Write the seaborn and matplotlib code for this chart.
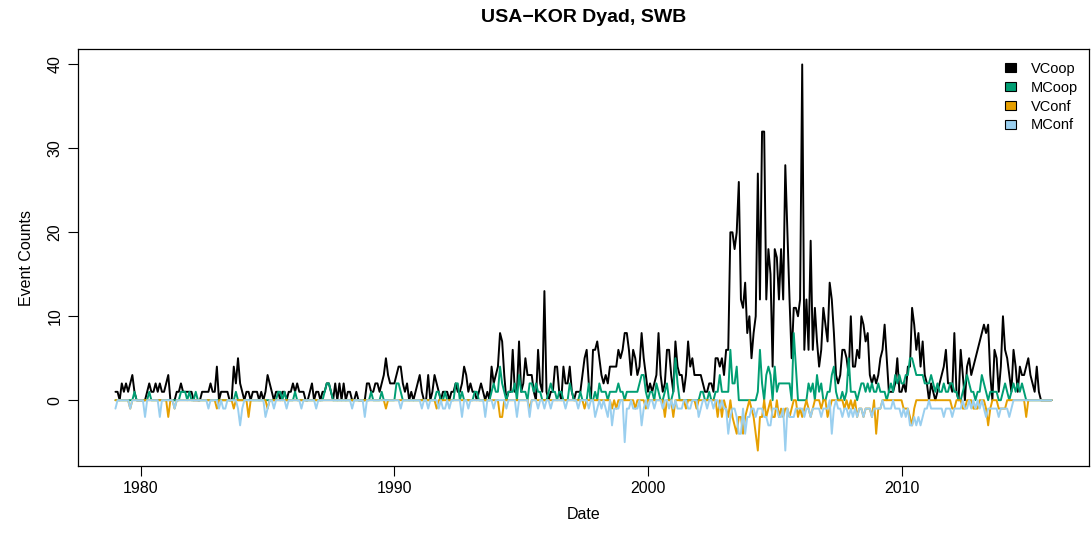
import numpy as np
import pandas as pd
import matplotlib
matplotlib.use("Agg")
import matplotlib.pyplot as plt
from matplotlib.patches import Patch
import seaborn as sns

# Monthly event counts, Jan 1979 - Dec 2015
start_year = 1979
vcoop = [
    1,1,0,2,1,2,1,2,3,1,0,0,  # 1979
    0,0,0,1,2,1,1,2,1,2,1,1,  # 1980
    2,3,0,0,0,1,1,2,1,1,1,1,  # 1981
    1,0,0,0,0,1,1,1,1,2,1,1,  # 1982
    4,0,1,1,1,1,0,0,4,2,5,2,  # 1983
    1,0,1,1,0,1,1,1,0,1,0,1,  # 1984
    3,2,1,0,1,1,0,1,1,0,1,1,  # 1985
    2,1,2,1,1,1,0,0,1,2,0,1,  # 1986
    1,0,1,1,2,2,1,0,2,0,2,0,  # 1987
    2,0,1,1,0,0,1,0,0,0,0,2,  # 1988
    2,1,1,2,2,1,2,3,5,3,2,2,  # 1989
    2,3,4,4,2,1,2,0,1,0,1,2,  # 1990
    3,1,0,0,3,0,1,3,2,1,0,1,  # 1991
    1,1,0,1,1,2,1,1,2,4,3,1,  # 1992
    2,1,1,0,1,2,1,0,1,0,4,2,  # 1993
    3,4,8,7,3,0,1,1,6,1,1,7,  # 1994
    1,2,5,3,3,3,1,0,6,2,1,13, # 1995
    1,0,1,1,4,4,1,0,4,2,2,4,  # 1996
    1,0,1,1,1,3,5,6,2,0,6,6,  # 1997
    7,5,3,2,3,2,4,4,4,4,6,5,  # 1998
    6,8,8,6,3,6,5,3,4,8,5,3,  # 1999
    1,2,1,2,3,8,3,1,2,6,6,3,  # 2000
    1,7,4,3,3,1,3,7,4,5,3,3,  # 2001
    3,3,2,1,1,2,2,1,5,5,4,5,  # 2002
    3,6,6,20,20,18,20,26,12,11,14,8,   # 2003
    10,5,8,10,27,12,32,32,12,18,15,4,  # 2004
    18,17,12,18,12,28,20,12,5,11,11,10, # 2005
    12,40,6,12,6,19,6,11,7,4,6,11,     # 2006
    9,7,14,12,8,3,2,3,6,6,5,3,  # 2007
    10,4,4,6,5,10,9,7,8,3,2,3,  # 2008
    2,3,5,6,9,5,1,1,1,2,5,1,    # 2009
    1,2,1,4,4,11,9,6,8,4,7,3,   # 2010
    2,0,2,1,0,1,2,3,4,6,2,2,    # 2011
    1,8,1,0,6,3,0,4,5,3,4,5,    # 2012
    6,7,8,9,8,9,3,0,6,5,1,4,    # 2013
    10,6,5,3,1,6,4,1,4,3,3,4,   # 2014
    5,3,2,1,4,1,0,0,0,0,0,0,    # 2015
]
mcoop = [
    0,0,0,0,0,0,0,0,0,1,0,0,
    0,0,0,0,1,0,0,0,0,0,0,0,
    0,0,0,0,0,0,0,1,1,1,0,1,
    0,0,1,0,0,0,0,0,0,0,0,0,
    0,0,0,0,0,0,0,0,0,1,0,0,
    0,0,0,0,0,0,0,0,0,0,0,0,
    0,0,0,0,0,1,1,0,1,0,0,0,
    0,1,0,0,0,0,0,0,0,0,0,0,
    0,0,0,1,2,2,1,0,0,0,0,0,
    0,0,0,0,0,0,0,0,0,0,0,0,
    0,1,0,0,0,0,1,0,0,0,0,0,
    0,2,2,1,0,0,0,0,0,0,0,0,
    0,0,0,0,0,0,0,0,1,1,0,0,
    1,0,0,0,0,2,2,0,1,0,0,0,
    0,0,1,1,0,0,0,0,0,0,1,2,
    1,1,4,2,1,0,1,1,1,2,0,3,
    1,1,1,0,2,2,1,2,1,1,0,0,
    0,1,2,1,1,0,1,1,0,0,0,2,
    1,0,0,0,1,0,0,0,2,0,0,1,
    0,2,1,1,1,0,1,1,1,1,2,1,
    1,0,1,1,1,1,1,1,2,3,3,1,
    0,1,1,0,2,1,0,0,1,2,0,0,
    1,5,2,0,0,0,0,0,0,0,0,0,
    0,1,1,0,0,1,0,0,1,1,3,1,
    1,1,1,6,2,2,4,0,0,0,0,0,
    0,0,0,0,1,6,2,0,3,4,3,0,
    4,1,2,2,2,2,2,2,0,8,4,0,
    0,0,0,0,2,1,2,0,3,1,2,0,
    0,1,1,3,4,1,0,0,1,0,1,5,
    1,1,1,0,1,2,2,1,2,1,2,1,
    1,2,1,1,1,0,1,2,1,3,2,3,
    2,2,3,3,5,5,4,3,3,3,3,2,
    2,2,3,2,1,2,1,1,2,1,1,2,
    2,1,1,0,0,1,2,3,2,1,1,0,
    1,1,3,2,1,0,1,1,1,1,0,0,
    1,2,1,0,1,2,1,2,1,2,1,0,
    0,0,0,0,0,0,0,0,0,0,0,0,
]
vconf = [
    0,0,0,0,0,0,0,1,0,0,0,0,
    0,0,0,0,0,0,0,0,0,0,0,0,
    0,2,0,0,1,0,0,0,0,0,0,0,
    0,0,0,0,0,0,0,0,0,0,0,0,
    1,0,0,0,0,0,0,0,1,0,0,0,
    0,0,0,2,0,0,0,0,0,0,0,0,
    1,0,0,0,0,0,0,0,0,0,0,0,
    0,0,0,0,0,0,0,0,0,0,0,0,
    0,0,0,0,0,0,0,0,0,0,0,0,
    0,0,0,0,0,0,0,0,0,0,0,0,
    0,0,0,0,0,0,0,0,1,0,0,0,
    0,0,0,0,0,0,0,0,0,0,0,0,
    0,0,0,0,0,0,0,0,1,0,0,0,
    0,0,0,0,0,0,0,0,0,0,0,0,
    0,0,0,0,0,0,0,0,0,0,0,0,
    0,0,2,2,0,0,0,0,0,0,0,0,
    0,0,0,0,1,0,0,0,0,0,0,0,
    0,0,0,0,0,0,0,0,0,0,0,0,
    0,0,0,0,0,0,1,0,0,0,0,0,
    0,0,0,0,0,0,0,1,0,1,0,0,
    0,0,0,0,0,0,1,0,0,0,0,1,
    0,0,0,0,0,0,0,0,2,0,0,0,
    2,0,0,0,0,0,1,0,0,0,0,1,
    0,0,0,0,0,0,0,0,0,2,0,2,
    0,1,2,0,2,3,4,2,2,4,2,1,
    0,1,2,4,6,2,2,0,2,1,0,2,
    2,0,2,1,2,1,1,2,1,0,0,2,
    1,2,1,0,1,2,1,0,0,0,1,0,
    0,2,1,0,0,0,0,0,0,1,0,1,
    0,1,0,2,1,1,2,1,1,1,2,0,
    4,1,1,0,0,0,0,0,0,0,0,0,
    0,1,1,1,2,3,1,0,0,0,0,0,
    0,0,0,0,0,0,0,0,0,0,0,0,
    1,1,0,0,0,1,1,0,0,0,1,1,
    1,0,0,0,1,3,1,0,0,0,1,1,
    1,1,0,0,0,0,0,0,0,0,0,2,
    0,0,0,0,0,0,0,0,0,0,0,0,
]
mconf = [
    1,0,0,0,0,0,0,1,0,0,0,0,
    0,0,2,0,0,0,0,0,0,2,0,0,
    0,0,0,0,1,0,0,0,0,0,0,0,
    0,0,0,0,0,0,0,0,1,0,0,0,
    0,1,0,1,1,0,0,0,0,0,1,3,
    1,0,0,0,0,0,0,0,0,0,0,2,
    1,0,0,1,0,0,0,0,0,1,0,0,
    0,0,0,0,1,0,0,0,0,0,0,1,
    0,0,0,0,0,0,0,0,0,0,0,0,
    0,0,0,0,1,0,0,0,0,0,2,0,
    0,0,0,0,0,0,0,0,0,0,0,0,
    0,0,0,1,0,0,0,0,0,0,0,0,
    0,1,0,0,1,0,0,0,0,1,0,1,
    1,0,1,0,0,0,0,0,2,0,0,1,
    0,0,0,0,0,0,0,2,0,0,0,1,
    0,0,0,0,0,1,0,0,0,0,2,0,
    0,0,0,0,2,0,0,0,1,0,0,1,
    0,0,1,0,0,0,0,0,0,1,0,0,
    0,0,0,1,0,0,0,0,1,0,0,2,
    1,0,1,0,1,2,0,3,1,1,1,0,
    0,5,1,1,0,1,1,1,0,3,1,0,
    1,0,0,1,0,0,0,1,0,0,1,0,
    1,0,1,1,1,0,0,1,1,0,0,0,
    2,1,0,0,1,0,0,1,0,0,1,0,
    1,1,4,2,1,1,2,4,4,1,4,2,
    2,1,1,2,1,1,1,2,2,3,3,1,
    1,1,2,2,1,6,1,2,2,2,1,1,
    1,1,2,1,1,2,1,1,1,1,2,1,
    1,1,0,4,1,0,1,1,2,1,1,2,
    1,2,1,2,1,1,2,1,1,1,2,1,
    1,1,1,0,1,1,1,1,0,1,1,1,
    2,1,2,1,3,3,2,3,2,3,2,1,
    1,0,1,1,1,1,1,1,2,1,1,1,
    2,1,1,1,1,0,1,1,0,1,0,1,
    0,1,0,1,2,1,1,1,1,1,2,1,
    1,1,1,2,1,0,0,0,0,0,0,0,
    0,0,0,0,0,0,0,0,0,0,0,0,
]

series_names = ["VCoop", "MCoop", "VConf", "MConf"]
series_colors = ["#000000", "#009E73", "#E69F00", "#9ACFEF"]
x_ticks = [1980, 1990, 2000, 2010]
y_ticks = [0, 10, 20, 30, 40]

n = len(vcoop)
dates = start_year + np.arange(n) / 12.0
frames = []
for name, vals, sign in zip(series_names, [vcoop, mcoop, vconf, mconf], [1, 1, -1, -1]):
    frames.append(pd.DataFrame({"Date": dates, "Count": sign * np.array(vals, dtype=float), "Series": name}))
df = pd.concat(frames, ignore_index=True)

sns.set_theme(style="white")
plt.rcParams["font.family"] = ["Liberation Sans", "DejaVu Sans"]
plt.rcParams["text.color"] = "black"
plt.rcParams["axes.labelcolor"] = "black"
plt.rcParams["xtick.color"] = "black"
plt.rcParams["ytick.color"] = "black"

W, H = 1091, 535
L, R, T, B = 78, 1089, 49, 466
fig = plt.figure(figsize=(W/100, H/100), dpi=100)
ax = fig.add_axes([L/W, 1-B/H, (R-L)/W, (B-T)/H])

sns.lineplot(data=df, x="Date", y="Count", hue="Series", hue_order=series_names,
             palette=dict(zip(series_names, series_colors)), linewidth=1.4,
             estimator=None, sort=False, legend=False, ax=ax)

# R-style 4% axis extension
xr = dates[-1] - dates[0]
ax.set_xlim(dates[0] - 0.04*xr, dates[-1] + 0.04*xr)
ax.set_ylim(-6 - 0.04*46, 40 + 0.04*46)
ax.set_xticks(x_ticks)
ax.set_xticklabels([str(v) for v in x_ticks], fontsize=11.5, color="black")
ax.set_yticks(y_ticks)
ax.set_yticklabels([str(v) for v in y_ticks], fontsize=11.5, rotation=90, va="center", color="black")
ax.tick_params(axis="both", direction="out", length=7, width=0.8, color="black",
               labelcolor="black", bottom=True, left=True, pad=4)
for s in ax.spines.values():
    s.set_visible(True)
    s.set_color("black")
    s.set_linewidth(0.9)
ax.set_xlabel("Date", fontsize=11.5, labelpad=8, color="black")
ax.set_ylabel("Event Counts", fontsize=11.5, labelpad=10, color="black")
ax.grid(False)
ax.set_facecolor("white")

fig.text((L+R)/2/W, 1-18/H, "USA\u2212KOR Dyad, SWB", fontsize=14, fontweight="bold",
         ha="center", va="center", color="black")

handles = [Patch(facecolor=c, edgecolor="black", linewidth=0.8, label=nm)
           for nm, c in zip(series_names, series_colors)]
leg = fig.legend(handles=handles, loc="upper left", bbox_to_anchor=(1005/W, 1-62/H),
                 frameon=False, fontsize=10.5, handlelength=0.75, handleheight=0.6,
                 handletextpad=1.0, labelspacing=0.33, borderpad=0, borderaxespad=0)
for t in leg.get_texts():
    t.set_color("black")

fig.savefig("out.png", dpi=100, facecolor="white")
